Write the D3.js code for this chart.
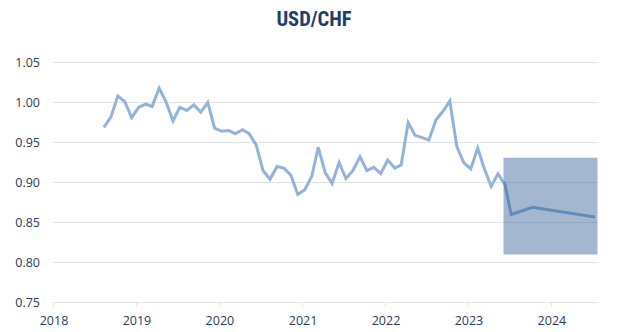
<!DOCTYPE html>
<html>
<head>
<meta charset="utf-8">
<script src="https://cdn.jsdelivr.net/npm/d3@7"></script>
<style>
  html, body { margin: 0; padding: 0; background: #fff; }
  svg { display: block; }
</style>
</head>
<body>
<svg id="chart" width="631" height="332"></svg>
<script>
// ---- data ----
const title = "USD/CHF";
const months = [
  "2018-08","2018-09","2018-10","2018-11","2018-12",
  "2019-01","2019-02","2019-03","2019-04","2019-05","2019-06","2019-07","2019-08","2019-09","2019-10","2019-11","2019-12",
  "2020-01","2020-02","2020-03","2020-04","2020-05","2020-06","2020-07","2020-08","2020-09","2020-10","2020-11","2020-12",
  "2021-01","2021-02","2021-03","2021-04","2021-05","2021-06","2021-07","2021-08","2021-09","2021-10","2021-11","2021-12",
  "2022-01","2022-02","2022-03","2022-04","2022-05","2022-06","2022-07","2022-08","2022-09","2022-10","2022-11","2022-12",
  "2023-01","2023-02","2023-03","2023-04","2023-05","2023-06"
];
const rates = [
  0.969,0.982,1.008,1.001,0.981,
  0.994,0.998,0.995,1.018,1.001,0.977,0.994,0.990,0.997,0.988,1.000,0.968,
  0.964,0.965,0.961,0.966,0.961,0.947,0.915,0.904,0.920,0.918,0.909,0.885,
  0.891,0.908,0.944,0.912,0.899,0.925,0.905,0.915,0.932,0.915,0.919,0.911,
  0.928,0.918,0.922,0.975,0.959,0.956,0.953,0.978,0.989,1.002,0.945,0.925,
  0.917,0.943,0.918,0.895,0.911,0.897
];
const forecastDates = ["2023-07-10","2023-10-12","2024-07-13"];
const forecastRates = [0.860, 0.869, 0.857];
const rangeLow = 0.81, rangeHigh = 0.931;
const yTicks = [0.75, 0.80, 0.85, 0.90, 0.95, 1.00, 1.05];
const xTickYears = [2018, 2019, 2020, 2021, 2022, 2023, 2024];
const xStart = "2018-01-01", xEnd = "2024-07-24";

// ---- build ----
const parseM = d3.timeParse("%Y-%m-%d");
const actual = months.map((m, i) => ({ date: parseM(m + "-13"), v: rates[i] }));
const fc = forecastDates.map((d, i) => ({ date: parseM(d), v: forecastRates[i] }));
const series = actual.concat(fc);

const svg = d3.select("#chart");
const x = d3.scaleTime().domain([parseM(xStart), parseM(xEnd)]).range([53, 597.5]);
const y = d3.scaleLinear().domain([0.75, 1.05]).range([302.5, 62.5]);

const textColor = "#2a3b5a";
const gridColor = "#e1e3e6";

// gridlines
svg.append("g").selectAll("line").data(yTicks).join("line")
  .attr("x1", x.range()[0]).attr("x2", x.range()[1])
  .attr("y1", d => y(d)).attr("y2", d => y(d))
  .attr("stroke", gridColor).attr("stroke-width", 1);

// y labels
svg.append("g").selectAll("text").data(yTicks).join("text")
  .attr("x", 40).attr("y", d => y(d)).attr("dy", "0.35em")
  .attr("text-anchor", "end")
  .attr("font-family", "'Open Sans', sans-serif").attr("font-size", 12.5)
  .attr("fill", textColor)
  .text(d => d3.format(".2f")(d));

// x axis ticks + labels
const xt = xTickYears.map(yr => new Date(yr, 0, 1));
svg.append("g").selectAll("line").data(xt).join("line")
  .attr("x1", d => Math.round(x(d)) + 0.5).attr("x2", d => Math.round(x(d)) + 0.5)
  .attr("y1", y(0.75)).attr("y2", y(0.75) + 4)
  .attr("stroke", gridColor).attr("stroke-width", 1);
svg.append("g").selectAll("text").data(xt).join("text")
  .attr("x", d => x(d) + 1).attr("y", 325)
  .attr("text-anchor", "middle")
  .attr("font-family", "'Open Sans', sans-serif").attr("font-size", 12.5)
  .attr("fill", textColor)
  .text(d => d.getFullYear());

// line
const line = d3.line().x(d => x(d.date)).y(d => y(d.v));
svg.append("path").datum(series)
  .attr("d", line)
  .attr("fill", "none")
  .attr("stroke", "#93b4da")
  .attr("stroke-width", 3)
  .attr("stroke-linejoin", "miter");

// forecast range box
const lastActual = actual[actual.length - 1].date;
svg.append("rect")
  .attr("x", x(lastActual) - 1.5)
  .attr("width", x.range()[1] - x(lastActual) + 1.5)
  .attr("y", y(rangeHigh))
  .attr("height", y(rangeLow) - y(rangeHigh))
  .attr("fill", "#194d89")
  .attr("fill-opacity", 0.4);

// title
svg.append("text")
  .attr("x", 314).attr("y", 26)
  .attr("text-anchor", "middle")
  .attr("font-family", "'Liberation Sans Narrow', 'Roboto Condensed', Roboto, sans-serif")
  .attr("font-weight", "bold").attr("font-size", 20.5)
  .attr("fill", "#1d3e6c")
  .text(title);
</script>
</body>
</html>
